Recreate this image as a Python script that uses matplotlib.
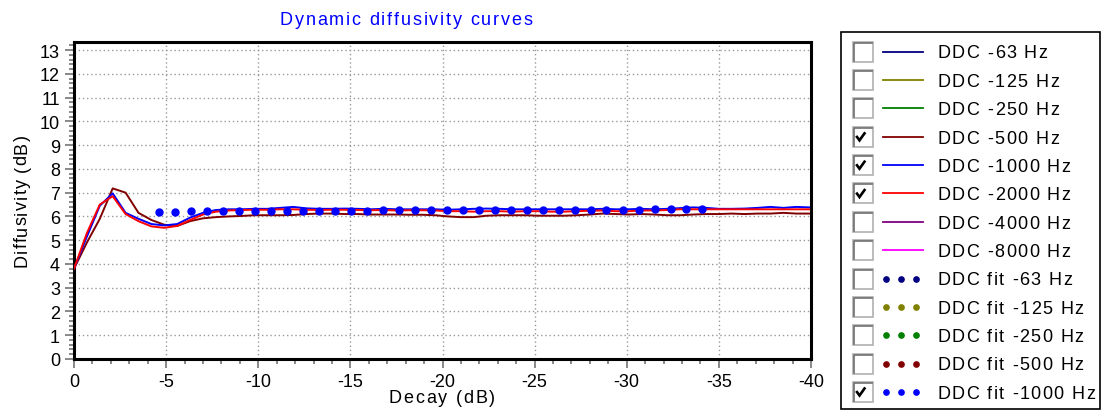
import matplotlib
matplotlib.use("Agg")
import matplotlib.pyplot as plt
from matplotlib.patches import Rectangle
from matplotlib.lines import Line2D
from matplotlib.ticker import MultipleLocator
from matplotlib.font_manager import FontProperties, findfont
from matplotlib.ft2font import FT2Font

plt.rcParams['font.family'] = ['Liberation Sans', 'DejaVu Sans']
plt.rcParams['axes.unicode_minus'] = False

# ---- data ----
decay = [round(-0.7 * k, 1) for k in range(58)]

ddc_500 = [3.8, 4.9, 5.9, 7.18, 7.0, 6.15, 5.85, 5.65, 5.6, 5.8,
           5.92, 5.97, 6.0, 6.02, 6.05, 6.05, 6.05, 6.06, 6.1, 6.12,
           6.12, 6.1, 6.1, 6.08, 6.08, 6.08, 6.07, 6.07, 6.05, 6.0,
           5.97, 5.97, 6.03, 6.05, 6.05, 6.05, 6.03, 6.03, 6.03, 6.05,
           6.08, 6.12, 6.1, 6.08, 6.1, 6.08, 6.05, 6.05, 6.08, 6.1,
           6.1, 6.12, 6.1, 6.12, 6.12, 6.15, 6.12, 6.12]

ddc_1000 = [3.8, 5.15, 6.45, 6.97, 6.15, 5.9, 5.68, 5.62, 5.68, 5.95,
            6.15, 6.27, 6.3, 6.3, 6.32, 6.32, 6.36, 6.4, 6.34, 6.32,
            6.32, 6.33, 6.32, 6.3, 6.32, 6.3, 6.3, 6.3, 6.3, 6.28,
            6.3, 6.32, 6.33, 6.32, 6.3, 6.3, 6.3, 6.3, 6.3, 6.3,
            6.3, 6.32, 6.3, 6.3, 6.32, 6.3, 6.32, 6.35, 6.38, 6.36,
            6.32, 6.32, 6.33, 6.36, 6.4, 6.36, 6.4, 6.38]

ddc_2000 = [3.8, 5.3, 6.5, 6.85, 6.1, 5.8, 5.58, 5.52, 5.6, 5.85,
            6.08, 6.2, 6.25, 6.27, 6.28, 6.28, 6.3, 6.3, 6.28, 6.27,
            6.28, 6.28, 6.27, 6.26, 6.27, 6.25, 6.26, 6.26, 6.25, 6.22,
            6.22, 6.2, 6.22, 6.22, 6.2, 6.22, 6.22, 6.2, 6.2, 6.22,
            6.24, 6.25, 6.22, 6.22, 6.25, 6.25, 6.27, 6.3, 6.3, 6.3,
            6.3, 6.3, 6.3, 6.3, 6.3, 6.3, 6.3, 6.3]

fit_decay = [-4.6, -5.47, -6.34, -7.2, -8.07, -8.94, -9.81, -10.68, -11.54, -12.41,
             -13.28, -14.15, -15.02, -15.88, -16.75, -17.62, -18.49, -19.36, -20.22, -21.09,
             -21.96, -22.83, -23.7, -24.56, -25.43, -26.3, -27.17, -28.04, -28.9, -29.77,
             -30.64, -31.51, -32.38, -33.24, -34.11]
fit_1000 = [6.20, 6.20, 6.21, 6.21, 6.21, 6.22, 6.22, 6.22, 6.23, 6.23,
            6.23, 6.24, 6.24, 6.24, 6.25, 6.25, 6.25, 6.25, 6.26, 6.26,
            6.26, 6.27, 6.27, 6.27, 6.28, 6.28, 6.28, 6.28, 6.29, 6.29,
            6.29, 6.30, 6.30, 6.30, 6.31]

legend_labels = ["DDC -63 Hz", "DDC -125 Hz", "DDC -250 Hz", "DDC -500 Hz",
                 "DDC -1000 Hz", "DDC -2000 Hz", "DDC -4000 Hz", "DDC -8000 Hz",
                 "DDC fit -63 Hz", "DDC fit -125 Hz", "DDC fit -250 Hz",
                 "DDC fit -500 Hz", "DDC fit -1000 Hz"]
legend_colors = ["#000080", "#808000", "#008000", "#800000", "#0000FF", "#FF0000",
                 "#800080", "#FF00FF", "#000080", "#808000", "#008000", "#800000",
                 "#0000FF"]
legend_checked = [False, False, False, True, True, True, False, False,
                  False, False, False, False, True]
legend_is_fit = [False] * 8 + [True] * 5

# ---- figure ----
W, H = 1103, 414
DPI = 100
fig = plt.figure(figsize=(W / DPI, H / DPI), dpi=DPI)

_font = FT2Font(findfont(FontProperties(family='Liberation Sans')))


def _advances(s, size_pt):
    _font.set_size(size_pt, 72)
    res = []
    for ch in s:
        g = _font.load_char(ord(ch))
        res.append(g.linearHoriAdvance / 65536.0 * DPI / 72.0)  # px
    return res


def tracked_text(x, y, s, size, track=2.0, ha="left", color="black",
                 vertical=False):
    """Text with extra letter spacing; x, y in pixels (top-left origin),
    y is the baseline (or baseline x for vertical text)."""
    adv = _advances(s, size)
    total = sum(adv) + track * (len(s) - 1)
    if ha == "center":
        start = -total / 2
    elif ha == "right":
        start = -total
    else:
        start = 0.0
    pos = start
    for ch, a in zip(s, adv):
        if ch != " ":
            if vertical:
                fig.text(x / W, 1 - (y - pos) / H, ch, fontsize=size,
                         color=color, rotation=90, rotation_mode="anchor",
                         ha="left", va="baseline")
            else:
                fig.text((x + pos) / W, 1 - y / H, ch, fontsize=size,
                         color=color, ha="left", va="baseline")
        pos += a + track


ax = fig.add_axes([74 / W, 1 - 360 / H, (811 - 74) / W, (360 - 43) / H])

ax.plot(decay, ddc_500, color="#800000", lw=1.4, zorder=3)
ax.plot(decay, ddc_1000, color="#0000FF", lw=1.4, zorder=4)
ax.plot(decay, ddc_2000, color="#FF0000", lw=1.4, zorder=5)
ax.plot(fit_decay, fit_1000, linestyle="none", marker="o", ms=5,
        color="#0000FF", zorder=6)

ax.set_xlim(0, -40)
ax.set_ylim(0, 13.34)
ax.xaxis.set_major_locator(MultipleLocator(5))
ax.xaxis.set_minor_locator(MultipleLocator(1))
ax.yaxis.set_major_locator(MultipleLocator(1))
ax.yaxis.set_minor_locator(MultipleLocator(0.2))
ax.grid(True, which="major", color="#999999", linestyle=(0, (1, 2)), lw=1.0)
for s in ax.spines.values():
    s.set_linewidth(2.2)
    s.set_color("black")
ax.tick_params(which="major", direction="out", length=6.5, width=1.4,
               color="#888888", labelsize=13, pad=3.6)
ax.tick_params(which="minor", direction="out", length=3.6, width=1.4,
               color="#888888")

# axis labels and title (letter-spaced like the original rendering)
tracked_text(442, 403.5, "Decay (dB)", 13, track=1.8, ha="center")
tracked_text(26.5, 201, "Diffusivity (dB)", 13, track=1.0, ha="center",
             vertical=True)
tracked_text(406, 25, "Dynamic diffusivity curves", 13, track=1.8,
             ha="center", color="#0000FF")

# ---- legend panel ----
lx0, lx1, ly0, ly1 = 841, 1100, 33, 410
fig.patches.append(Rectangle((lx0 / W, 1 - ly1 / H), (lx1 - lx0) / W,
                             (ly1 - ly0) / H, transform=fig.transFigure,
                             fill=False, edgecolor="black", lw=1.2))
row0, dy = 52.7, 28.35
for i, lab in enumerate(legend_labels):
    yc = row0 + i * dy
    yf = 1 - yc / H
    bx, bs = 853, 20
    cx = bx + bs / 2
    fig.patches.append(Rectangle((bx / W, 1 - (yc + bs / 2) / H), bs / W, bs / H,
                                 transform=fig.transFigure, facecolor="white",
                                 edgecolor="#B0B0B0", lw=1.2))
    fig.lines.append(Line2D([(bx + 1) / W, (bx + 1) / W, (bx + bs - 1) / W],
                            [1 - (yc + bs / 2 - 1) / H, 1 - (yc - bs / 2 + 1) / H,
                             1 - (yc - bs / 2 + 1) / H],
                            transform=fig.transFigure, color="#707070", lw=1.2))
    if legend_checked[i]:
        fig.lines.append(Line2D([(cx - 6) / W, (cx - 3.5) / W, (cx + 1.5) / W],
                                [1 - (yc + 0.2) / H, 1 - (yc + 3.6) / H,
                                 1 - (yc - 3.4) / H],
                                transform=fig.transFigure, color="black",
                                lw=1.9, solid_joinstyle="miter"))
    c = legend_colors[i]
    if legend_is_fit[i]:
        fig.lines.append(Line2D([886 / W, 901 / W, 916 / W], [yf] * 3,
                                transform=fig.transFigure, linestyle="none",
                                marker="o", ms=3.8, color=c))
    else:
        fig.lines.append(Line2D([883 / W, 923 / W], [yf, yf],
                                transform=fig.transFigure, color=c, lw=1.3))
    tracked_text(937.5, yc + 5.8, lab, 13, track=1.4, ha="left")

fig.savefig("out.png", dpi=DPI)
